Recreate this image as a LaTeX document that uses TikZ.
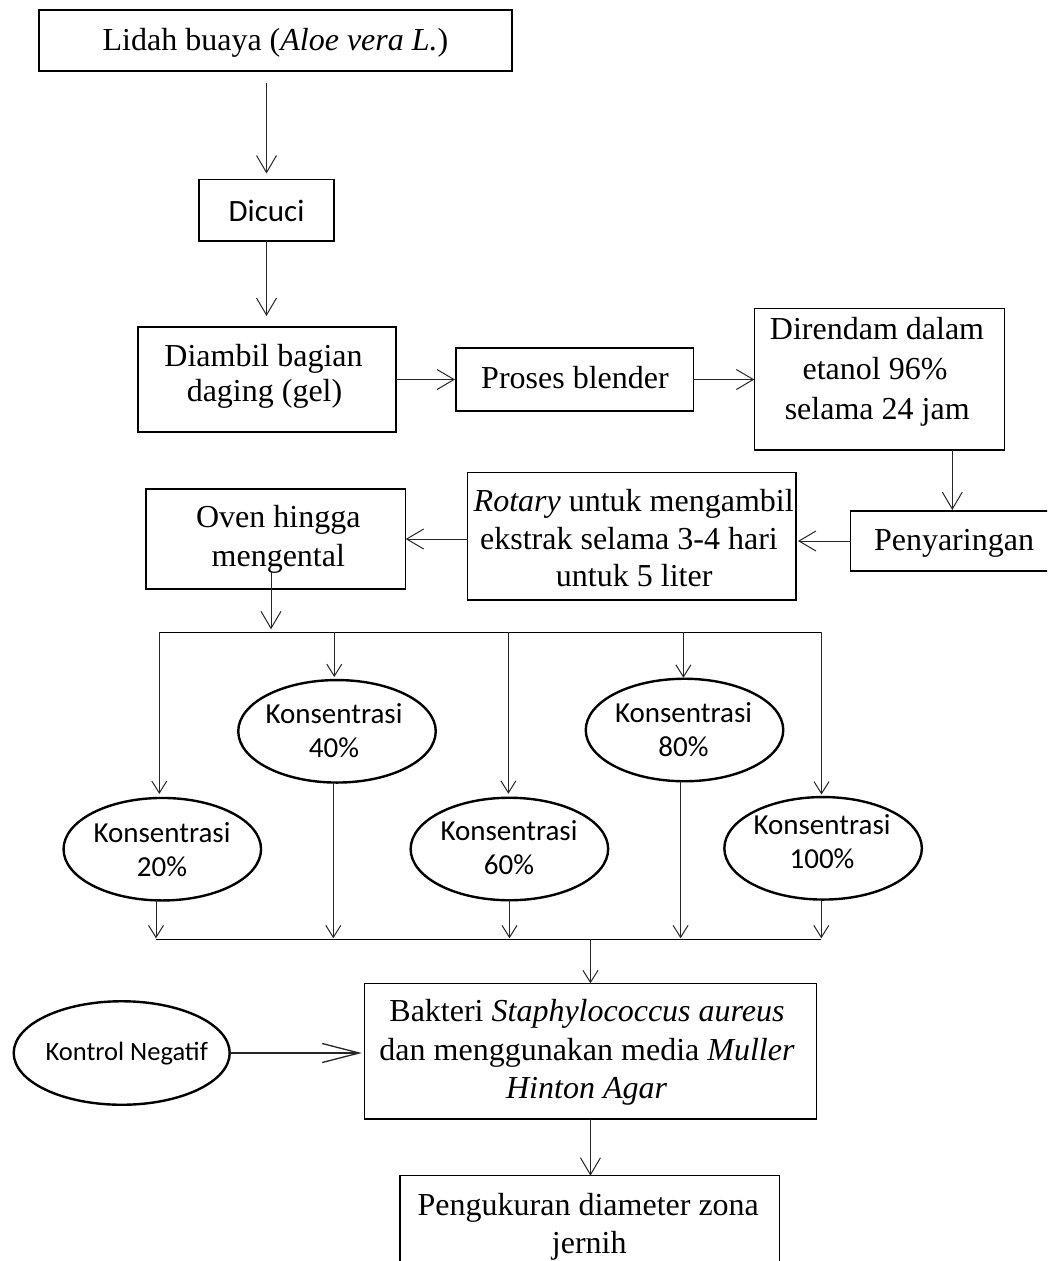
\documentclass[tikz,border=0pt]{standalone}
\usepackage{fontspec}
\setmainfont{Liberation Serif}
\newfontfamily\calfont{Carlito}
\usetikzlibrary{arrows.meta,shapes.geometric}
\begin{document}
\begin{tikzpicture}[x=1pt,y=-1pt,
  box/.style={draw=black, line width=1.2pt, inner sep=0pt, outer sep=0pt},
  ell/.style={ellipse, draw=black, line width=2.4pt, inner sep=0pt, outer sep=0pt,
              minimum width=197.5pt, minimum height=102.5pt},
  tr/.style={anchor=base, inner sep=0pt, font=\fontsize{32}{38}\selectfont},
  ts/.style={anchor=base, inner sep=0pt, font=\calfont\fontsize{29}{34}\selectfont},
  conn/.style={draw=black!85, line width=1pt},
  arr/.style={conn, -{Straight Barb[length=17pt,width=20pt]}},
  sarr/.style={conn, -{Straight Barb[length=12pt,width=15pt]}},
  bigarr/.style={conn, line width=1.3pt, -{Straight Barb[length=37pt,width=19pt]}},
  bus/.style={draw=black, line width=1.5pt},
]
\useasboundingbox (0,0) rectangle (1047,1261);
\clip (0,0) rectangle (1047,1261);
\fill[white] (0,0) rectangle (1047,1261);

% ---------- boxes ----------
\node[box, minimum width=473pt, minimum height=61pt] (lidah) at (275.5,40.5) {};
\node[box, minimum width=135pt, minimum height=61.5pt] (dicuci) at (266.5,210.25) {};
\node[box, minimum width=258pt, minimum height=105pt] (diambil) at (267,379.5) {};
\node[box, minimum width=237.3pt, minimum height=63pt] (proses) at (574.65,379.5) {};
\node[box, minimum width=250pt, minimum height=141.7pt] (direndam) at (879.3,379.15) {};
\node[box, minimum width=206.3pt, minimum height=60pt] (penyaringan) at (953.85,541) {};
\node[box, minimum width=328.3pt, minimum height=127.3pt] (rotary) at (631.85,536.35) {};
\node[box, minimum width=259.7pt, minimum height=100pt] (oven) at (275.85,539) {};
\node[box, minimum width=452.3pt, minimum height=135.7pt] (bakteri) at (590.45,1051.15) {};
\node[box, minimum width=379.5pt, minimum height=114.3pt] (peng) at (589.75,1232.85) {};

% ---------- ellipses ----------
\node[ell] (e40) at (337,731.3) {};
\node[ell] (e80) at (684.5,730) {};
\node[ell] (e20) at (162.3,849.2) {};
\node[ell] (e60) at (509.4,849) {};
\node[ell] (e100) at (823.1,848.3) {};
\node[ell, minimum width=216pt, minimum height=103.5pt] (kon) at (121.7,1053) {};

% ---------- texts ----------
\node[tr] (t-lidah) at (275.5,50.7) {Lidah buaya (\textit{Aloe vera L.})};
\node[ts, font=\calfont\fontsize{31}{36}\selectfont] (t-dicuci) at (266.5,221.7) {Dicuci};
\node[tr] (t-diambil1) at (263.5,366.7) {Diambil bagian};
\node[tr] (t-diambil2) at (264.5,401.7) {daging (gel)};
\node[tr] (t-proses) at (575,388) {Proses blender};
\node[tr] (t-dir1) at (877,339.3) {Direndam dalam};
\node[tr] (t-dir2) at (875,379.3) {etanol 96\%};
\node[tr] (t-dir3) at (877.2,419.3) {selama 24 jam};
\node[tr] (t-peny) at (954,550) {Penyaringan};
\node[tr] (t-rot1) at (633.7,511.7) {\textit{Rotary} untuk mengambil};
\node[tr] (t-rot2) at (629,549.3) {ekstrak selama 3-4 hari};
\node[tr] (t-rot3) at (634.2,586.7) {untuk 5 liter};
\node[tr] (t-oven1) at (278.3,527.3) {Oven hingga};
\node[tr] (t-oven2) at (278.3,566) {mengental};
\node[ts] (t-e40a) at (334,723.3) {Konsentrasi};
\node[ts] (t-e40b) at (334,757.3) {40\%};
\node[ts] (t-e80a) at (683.5,722.3) {Konsentrasi};
\node[ts] (t-e80b) at (683.5,756.3) {80\%};
\node[ts] (t-e20a) at (162,842.7) {Konsentrasi};
\node[ts] (t-e20b) at (162,876.7) {20\%};
\node[ts] (t-e60a) at (509,840.8) {Konsentrasi};
\node[ts] (t-e60b) at (509,874.8) {60\%};
\node[ts] (t-e100a) at (822,834.8) {Konsentrasi};
\node[ts] (t-e100b) at (822,868.8) {100\%};
\node[ts, font=\calfont\fontsize{26.5}{32}\selectfont] (t-kon) at (126.7,1060) {Kontrol Negatif};
\node[tr] (t-bak1) at (587,1021.7) {Bakteri \textit{Staphylococcus aureus}};
\node[tr] (t-bak2) at (587,1060) {dan menggunakan media \textit{Muller}};
\node[tr] (t-bak3) at (586.6,1098.3) {\textit{Hinton Agar}};
\node[tr] (t-peng1) at (588.3,1215) {Pengukuran diameter zona};
\node[tr] (t-peng2) at (589.3,1253) {jernih};

% ---------- bus coordinates ----------
\coordinate (busL) at (159.3,632.3);
\coordinate (busR) at (821.5,632.3);
\coordinate (b40) at (334.3,632.3);
\coordinate (b60) at (508.4,632.3);
\coordinate (b80) at (683.4,632.3);
\coordinate (ovenout) at (271,571.7);
\coordinate (lbL) at (156,939.3);
\coordinate (lbR) at (821.3,939.3);
\coordinate (l40) at (333.3,939.3);
\coordinate (l60) at (509.5,939.3);
\coordinate (l80) at (680.6,939.3);

% ---------- connectors ----------
\draw[arr, shorten <=12pt, shorten >=6pt] (lidah.south -| dicuci.north) -- (dicuci.north);
\draw[arr, shorten >=11pt] (dicuci.south) -- (dicuci.south |- diambil.north);
\draw[arr, shorten >=1pt] (diambil.east) -- (diambil.east -| proses.west);
\draw[arr] (proses.east) -- (proses.east -| direndam.west);
\draw[arr, shorten >=1pt] ([xshift=73pt]direndam.south) -- ([xshift=73pt]direndam.south |- penyaringan.north);
\draw[arr, shorten >=2pt] (penyaringan.west) -- (penyaringan.west -| rotary.east);
\draw[arr] (rotary.west |- oven.east) -- (oven.east);
\draw[arr, shorten >=3pt] (ovenout) -- (ovenout |- busL);

\draw[bus] (busL) -- (busR);
\draw[sarr, shorten >=4pt] (busL) -- (busL |- e20.north);
\draw[sarr, shorten >=3pt] (b40) -- (b40 |- e40.north);
\draw[sarr, shorten >=4pt] (b60) -- (b60 |- e60.north);
\draw[sarr, shorten >=1pt] (b80) -- (b80 |- e80.north);
\draw[sarr, shorten >=2.5pt] (busR) -- (busR |- e100.north);

\draw[sarr, shorten >=1pt] (lbL |- e20.south) -- (lbL);
\draw[sarr, shorten >=1pt] (l40 |- e40.south) -- (l40);
\draw[sarr, shorten >=1pt] (l60 |- e60.south) -- (l60);
\draw[sarr, shorten >=1pt] (l80 |- e80.south) -- (l80);
\draw[sarr, shorten >=1pt] (lbR |- e100.south) -- (lbR);
\draw[bus] (lbL) -- (lbR);

\draw[sarr] (bakteri.north |- lbL) -- (bakteri.north);
\draw[bigarr, shorten >=2.5pt] (kon.east) -- (kon.east -| bakteri.west);
\draw[arr] (bakteri.south) -- (bakteri.south |- peng.north);
\end{tikzpicture}
\end{document}
